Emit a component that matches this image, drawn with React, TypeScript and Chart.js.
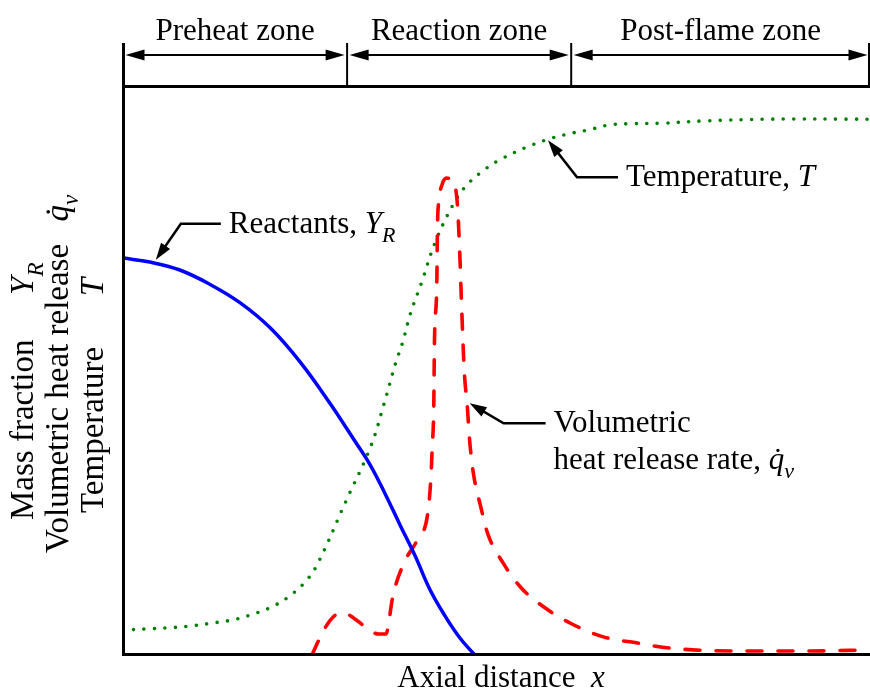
import React, { useEffect, useRef } from "react";
import { Chart, registerables } from "chart.js";

Chart.register(...registerables);

// Axial distance (normalized 0-100) and normalized profile values (0-100)
const reactantsX = [0, 3.6, 7.6, 11.6, 15.7, 19.7, 23.7, 27.7, 31.1, 33.1, 35.1, 37.1, 39.1, 41.1, 43.1, 45.1, 47.1];
const reactantsY = [70.0, 69.3, 67.9, 65.4, 62.1, 57.7, 51.7, 44.4, 37.6, 33.5, 28.4, 22.9, 17.5, 11.5, 6.9, 3.0, 0];

const temperatureX = [0, 3.3, 6.2, 9.0, 11.8, 14.7, 17.4, 20.1, 22.5, 24.6, 26.1, 29.8, 33.2, 34.9, 36.5, 37.4, 38.5, 40.0, 41.8, 44.3, 45.9, 48.0, 50.4, 54.1, 57.0, 59.6, 62.3, 65.2, 68.2, 72.3, 77.9, 86.6, 100];
const temperatureY = [4.4, 4.6, 4.8, 5.1, 5.6, 6.2, 7.2, 8.6, 10.6, 13.2, 16.2, 27.0, 36.9, 44.1, 51.5, 55.0, 60.3, 65.8, 72.8, 79.7, 82.7, 85.2, 87.3, 89.6, 91.0, 91.9, 92.6, 93.5, 93.7, 93.8, 94.2, 94.5, 94.5];

const heatX = [25.3, 26.2, 27.1, 28.5, 29.6, 30.9, 32.5, 34.2, 35.2, 35.4, 36.1, 37.6, 39.4, 40.8, 41.2, 41.4, 41.6, 41.7, 42.0, 42.1, 42.3, 42.7, 43.3, 44.0, 44.5, 44.8, 45.1, 45.3, 45.5, 45.7, 46.1, 46.4, 46.9, 47.9, 48.8, 50.9, 53.2, 56.3, 59.9, 64.3, 68.9, 73.3, 82.2, 91.0, 100];
const heatY = [0, 2.6, 4.9, 7.1, 7.4, 6.5, 4.9, 3.7, 3.7, 4.4, 10.2, 16.2, 20.3, 25.0, 30.9, 36.7, 43.7, 55.6, 64.9, 75.5, 80.2, 82.9, 84.1, 84.0, 82.5, 78.8, 70.2, 62.6, 55.6, 49.7, 43.7, 37.9, 32.1, 26.1, 21.5, 16.2, 12.0, 8.5, 5.6, 3.2, 2.1, 1.2, 0.7, 0.7, 0.9];

const zoneBounds = [0, 30, 60, 100];
const zoneLabels = ["Preheat zone", "Reaction zone", "Post-flame zone"];

const FONT = '"Liberation Serif", "Times New Roman", serif';

type Seg = { t: string; i?: boolean; sub?: boolean; g?: number };

function segFont(s: Seg, size: number) {
  const sz = s.sub ? Math.round(size * 0.7) : size;
  return `${s.i ? "italic " : ""}${sz}px ${FONT}`;
}

function richWidth(ctx: CanvasRenderingContext2D, segs: Seg[], size: number) {
  let w = 0;
  for (const s of segs) {
    ctx.font = segFont(s, size);
    w += ctx.measureText(s.t).width + (s.g || 0);
  }
  return w;
}

function drawRich(ctx: CanvasRenderingContext2D, x: number, y: number, segs: Seg[], size: number) {
  ctx.textAlign = "left";
  ctx.textBaseline = "alphabetic";
  let cx = x;
  for (const s of segs) {
    ctx.font = segFont(s, size);
    ctx.fillText(s.t, cx, y + (s.sub ? size * 0.29 : 0));
    cx += ctx.measureText(s.t).width + (s.g || 0);
  }
}

function arrowHead(ctx: CanvasRenderingContext2D, tx: number, ty: number, fx: number, fy: number, len: number, half: number) {
  const a = Math.atan2(ty - fy, tx - fx);
  const bx = tx - len * Math.cos(a);
  const by = ty - len * Math.sin(a);
  ctx.beginPath();
  ctx.moveTo(tx, ty);
  ctx.lineTo(bx + half * Math.sin(a), by - half * Math.cos(a));
  ctx.lineTo(bx - half * Math.sin(a), by + half * Math.cos(a));
  ctx.closePath();
  ctx.fill();
}

const pts = (xs: number[], ys: number[]) => xs.map((x, i) => ({ x, y: ys[i] }));

const decorations = {
  id: "decorations",
  afterDraw(chart: any) {
    const ctx: CanvasRenderingContext2D = chart.ctx;
    const { left, right, top, bottom } = chart.chartArea;
    const xs = chart.scales.x;
    const ys = chart.scales.y;
    const size = 31;
    ctx.save();
    ctx.fillStyle = "#000";
    ctx.strokeStyle = "#000";

    // frame: left axis, top line, bottom axis
    ctx.lineWidth = 3;
    ctx.beginPath();
    ctx.moveTo(left + 0.5, 43);
    ctx.lineTo(left + 0.5, bottom + 1);
    ctx.moveTo(left - 1, top - 1.5);
    ctx.lineTo(right, top - 1.5);
    ctx.moveTo(left - 1, bottom - 0.5);
    ctx.lineTo(right, bottom - 0.5);
    ctx.stroke();

    // zone ticks and arrows
    const ay = 55;
    ctx.lineWidth = 2;
    for (let k = 1; k < zoneBounds.length; k++) {
      const px = Math.min(xs.getPixelForValue(zoneBounds[k]), right - 1);
      ctx.beginPath();
      ctx.moveTo(px, 43);
      ctx.lineTo(px, top - 1.5);
      ctx.stroke();
    }
    for (let k = 0; k < zoneLabels.length; k++) {
      const x0 = xs.getPixelForValue(zoneBounds[k]) + 2.5;
      const x1 = Math.min(xs.getPixelForValue(zoneBounds[k + 1]), right) - 2.5;
      ctx.lineWidth = 2;
      ctx.beginPath();
      ctx.moveTo(x0 + 10, ay);
      ctx.lineTo(x1 - 10, ay);
      ctx.stroke();
      arrowHead(ctx, x0, ay, x1, ay, 19, 5.5);
      arrowHead(ctx, x1, ay, x0, ay, 19, 5.5);
      ctx.font = `${size}px ${FONT}`;
      ctx.textAlign = "center";
      ctx.textBaseline = "alphabetic";
      ctx.fillText(zoneLabels[k], (x0 + x1) / 2, 40);
    }

    // callouts
    const callouts = [
      { x: 4.4, y: 69.7, dx1: 25, dy1: -36, len: 40, lines: [[{ t: "Reactants, " }, { t: "Y", i: true }, { t: "R", i: true, sub: true }]] as Seg[][] },
      { x: 56.9, y: 90.8, dx1: 29, dy1: 37, len: 41, lines: [[{ t: "Temperature, " }, { t: "T", i: true }]] as Seg[][] },
      { x: 46.4, y: 44.4, dx1: 34, dy1: 20, len: 42, lines: [[{ t: "Volumetric" }], [{ t: "heat release rate, " }, { t: "q\u0307", i: true }, { t: "v", i: true, sub: true }]] as Seg[][] },
    ];
    for (const c of callouts) {
      const tx = xs.getPixelForValue(c.x);
      const ty = ys.getPixelForValue(c.y);
      const ex = tx + c.dx1;
      const ey = ty + c.dy1;
      ctx.lineWidth = 2.5;
      ctx.beginPath();
      const a = Math.atan2(ty - ey, tx - ex);
      ctx.moveTo(tx - 12 * Math.cos(a), ty - 12 * Math.sin(a));
      ctx.lineTo(ex, ey);
      ctx.lineTo(ex + c.len, ey);
      ctx.stroke();
      arrowHead(ctx, tx, ty, ex, ey, 17, 5.5);
      c.lines.forEach((ln, li) => {
        drawRich(ctx, ex + c.len + 8, ey + 9 + li * 37, ln, size);
      });
    }

    // x axis title
    const xt: Seg[] = [{ t: "Axial distance  " }, { t: "x", i: true }];
    const xw = richWidth(ctx, xt, size);
    drawRich(ctx, 501 - xw / 2, 687, xt, size);

    // y axis title (rotated, three lines)
    const ySize = 33;
    const yLines: { bx: number; sy: number; segs: Seg[] }[] = [
      { bx: 33, sy: 520, segs: [{ t: "Mass fraction  ", g: 28 }, { t: "Y", i: true }, { t: "R", i: true, sub: true }] },
      { bx: 68, sy: 553, segs: [{ t: "Volumetric heat release  ", g: 6 }, { t: "q\u0307", i: true }, { t: "v", i: true, sub: true }] },
      { bx: 103, sy: 513, segs: [{ t: "Temperature  ", g: 34 }, { t: "T", i: true }] },
    ];
    for (const l of yLines) {
      ctx.save();
      ctx.translate(l.bx, l.sy);
      ctx.rotate(-Math.PI / 2);
      drawRich(ctx, 0, 0, l.segs, ySize);
      ctx.restore();
    }
    ctx.restore();
  },
};

export default function App() {
  const ref = useRef<HTMLCanvasElement>(null);
  useEffect(() => {
    const chart = new Chart(ref.current!, {
      type: "line",
      data: {
        datasets: [
          {
            label: "Reactants",
            data: pts(reactantsX, reactantsY),
            borderColor: "#0000ff",
            borderWidth: 3.5,
            tension: 0.4,
            pointRadius: 0,
            fill: false,
          },
          {
            label: "Volumetric heat release rate",
            data: pts(heatX, heatY),
            borderColor: "#ff0000",
            borderWidth: 3.6,
            borderDash: [15, 16],
            borderCapStyle: "round",
            cubicInterpolationMode: "monotone",
            pointRadius: 0,
            fill: false,
          },
          {
            label: "Temperature",
            data: pts(temperatureX, temperatureY),
            borderColor: "#008000",
            borderWidth: 3.6,
            borderDash: [0, 10.5],
            borderCapStyle: "round",
            tension: 0.4,
            pointRadius: 0,
            fill: false,
          },
        ],
      },
      options: {
        responsive: false,
        maintainAspectRatio: false,
        animation: false,
        devicePixelRatio: 1,
        layout: { padding: { left: 123, top: 88, right: 0, bottom: 36 } },
        plugins: { legend: { display: false }, tooltip: { enabled: false } },
        scales: {
          x: { type: "linear", min: 0, max: 100, display: false },
          y: { type: "linear", min: 0, max: 100, display: false },
        },
      },
      plugins: [decorations],
    } as any);
    return () => chart.destroy();
  }, []);
  return (
    <div style={{ position: "fixed", left: 0, top: 0, width: 870, height: 691, background: "#fff" }}>
      <canvas ref={ref} width={870} height={691} style={{ display: "block", width: 870, height: 691 }} />
    </div>
  );
}
